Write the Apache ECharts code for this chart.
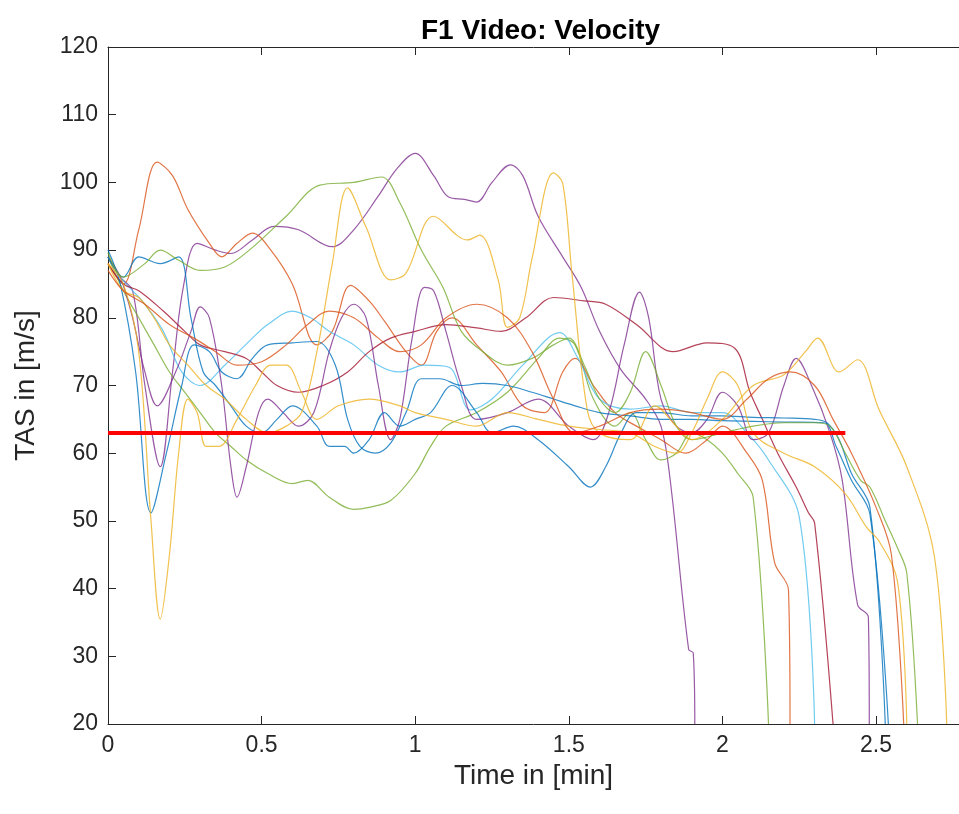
<!DOCTYPE html>
<html>
<head>
<meta charset="utf-8">
<script src="https://cdn.jsdelivr.net/npm/echarts@6/dist/echarts.min.js"></script>
<style>
  html, body { margin: 0; padding: 0; background: #fff; }
  #chart { width: 959px; height: 814px; }
</style>
</head>
<body>
<div id="chart"></div>
<script>
// MATLAB default line colours, in plot order
const lineColors = ['#7E2F8E', '#77AC30', '#D95319', '#4DBEEE', '#A2142F', '#7E2F8E',
                    '#0072BD', '#0072BD', '#EDB120', '#77AC30', '#EDB120', '#D95319'];

// [time in min, TAS in m/s]
const runA = [[0,89],[0.04,86],[0.08,84],[0.12,70],[0.17,58],[0.21,72],[0.245,84.5],[0.29,91],[0.35,90],[0.4,89.5],[0.47,91.5],[0.54,93.5],[0.62,93],[0.73,90.5],[0.8,93],[0.88,98],[0.94,102],[1.0,104.3],[1.06,101],[1.11,97.8],[1.16,97.5],[1.2,97.1],[1.25,100],[1.31,102.6],[1.35,101],[1.4,95],[1.48,89],[1.54,84.5],[1.6,78],[1.67,72.3],[1.75,68],[1.8,64],[1.83,56],[1.89,31],[1.905,30.5],[1.91,20]];
const runB = [[0,89],[0.05,84],[0.1,80],[0.15,76],[0.2,72],[0.25,69],[0.3,66],[0.35,63],[0.4,61],[0.45,59],[0.52,57],[0.6,55.5],[0.65,56],[0.72,53.5],[0.8,51.7],[0.85,52],[0.92,53],[1.0,57],[1.05,61],[1.1,64],[1.2,66],[1.3,69],[1.4,74],[1.47,77],[1.52,76],[1.58,68],[1.65,64],[1.7,66],[1.75,62],[1.8,59],[1.85,60],[1.9,63],[1.95,62],[2.0,60],[2.05,57],[2.1,53.5],[2.15,20]];
const runC = [[0,88],[0.05,85],[0.1,93],[0.16,103],[0.21,101],[0.26,96],[0.33,91],[0.37,89],[0.42,91],[0.47,92.5],[0.53,90],[0.6,85],[0.68,76],[0.73,78],[0.79,84.8],[0.85,82.5],[0.9,79.5],[0.97,75],[1.02,73],[1.07,78],[1.12,80],[1.2,76],[1.28,72],[1.35,67],[1.42,66],[1.48,72],[1.52,74],[1.58,70],[1.65,66],[1.72,64],[1.8,62],[1.88,60],[1.95,62],[2.0,64],[2.08,60],[2.13,56],[2.17,43.8],[2.215,39.8],[2.22,20]];
const runD = [[0,89],[0.04,86],[0.08,84],[0.12,82],[0.18,78],[0.24,72],[0.3,70],[0.38,73],[0.47,77],[0.52,79],[0.6,81],[0.66,80],[0.72,78],[0.8,76],[0.88,73],[0.95,72],[1.03,73],[1.11,72.7],[1.18,66.4],[1.25,68],[1.35,73],[1.47,77.8],[1.53,74],[1.6,68],[1.7,66.5],[1.8,67],[1.9,66],[2.0,66],[2.08,63],[2.15,59],[2.25,50.6],[2.3,20]];
const runE = [[0,88],[0.05,85],[0.1,84],[0.18,81],[0.25,78],[0.3,76],[0.38,75],[0.45,74],[0.5,72],[0.55,70],[0.62,69],[0.7,70],[0.78,72],[0.85,75],[0.92,77],[1.0,78],[1.1,79],[1.2,78.5],[1.28,78],[1.36,80],[1.45,83],[1.55,82.5],[1.62,82],[1.72,79],[1.84,75],[1.95,76.3],[2.04,75.5],[2.09,69],[2.13,65],[2.18,60],[2.24,55],[2.28,51.2],[2.3,49.7],[2.36,20]];
const runF = [[0,89],[0.04,86],[0.08,80],[0.12,72],[0.16,67],[0.22,72],[0.27,78],[0.3,81.6],[0.33,80],[0.37,70],[0.4,58],[0.42,53.5],[0.45,58],[0.49,66],[0.52,68],[0.57,66],[0.62,64],[0.67,66],[0.72,75],[0.76,80],[0.8,82],[0.84,80],[0.88,70],[0.92,62],[0.95,65],[0.99,77],[1.03,84.5],[1.06,84],[1.1,78],[1.15,70],[1.2,65],[1.3,66],[1.4,68],[1.5,64],[1.58,62],[1.63,66],[1.68,76],[1.73,83.8],[1.76,80],[1.8,68],[1.85,64],[1.9,63],[1.95,65],[2.0,69],[2.05,67],[2.1,62],[2.15,63],[2.2,70],[2.24,74],[2.29,70],[2.35,63],[2.39,56],[2.44,37.6],[2.475,35.8],[2.478,20]];
const runG = [[0,90],[0.04,85],[0.09,72],[0.14,51.2],[0.19,60],[0.24,70],[0.28,76],[0.33,75],[0.37,72],[0.42,71],[0.47,74],[0.52,76],[0.6,76.3],[0.68,76.5],[0.74,73],[0.78,65],[0.82,61],[0.87,60],[0.92,61.5],[0.97,66],[1.02,71],[1.08,71],[1.15,70],[1.22,70.3],[1.3,70],[1.38,69],[1.45,68],[1.52,67],[1.6,66],[1.7,65.5],[1.8,65],[1.9,65],[2.0,64.8],[2.1,64.7],[2.2,64.6],[2.33,64.5],[2.37,61],[2.42,56],[2.48,51],[2.54,20]];
const runH = [[0,89],[0.05,86],[0.1,89],[0.17,88],[0.23,89],[0.27,80],[0.31,72],[0.35,70],[0.4,67],[0.45,64],[0.5,63],[0.55,65],[0.6,67],[0.68,64],[0.72,61],[0.77,61],[0.8,60],[0.85,62],[0.9,66],[0.95,64],[1.0,65],[1.05,66],[1.12,70],[1.2,66],[1.25,63],[1.32,64],[1.4,62],[1.5,58],[1.57,55],[1.62,58],[1.67,63],[1.72,66],[1.8,66],[1.9,65.5],[2.0,65.5],[2.1,65.3],[2.2,65.2],[2.3,65],[2.34,64.5],[2.38,62],[2.42,57],[2.48,52],[2.53,20]];
const runI = [[0,88],[0.05,85],[0.1,75],[0.14,50],[0.17,35.5],[0.2,45],[0.23,60],[0.26,68],[0.29,66],[0.32,61],[0.36,61],[0.42,65],[0.48,70],[0.53,73],[0.58,73],[0.63,69],[0.68,65],[0.75,67],[0.85,68],[0.95,67],[1.0,66],[1.1,65],[1.2,64],[1.3,66],[1.4,65],[1.5,64],[1.6,63.5],[1.7,63],[1.78,61],[1.85,60],[1.9,63],[1.95,68],[2.0,72],[2.05,70],[2.1,63],[2.2,60],[2.3,58],[2.4,54],[2.47,49],[2.51,47],[2.57,41],[2.6,20]];
const runJ = [[0,89.6],[0.05,86],[0.12,88],[0.17,90],[0.23,88.5],[0.3,87],[0.38,87.5],[0.46,90],[0.58,95],[0.69,99.6],[0.8,100],[0.89,100.8],[0.95,97],[1.02,90],[1.09,84.5],[1.15,78],[1.22,75],[1.3,73],[1.38,74],[1.45,76],[1.5,77],[1.55,73],[1.6,68],[1.65,66],[1.7,69],[1.75,75],[1.8,70],[1.85,64],[1.9,62],[2.0,63],[2.1,64],[2.2,64.5],[2.3,64.5],[2.35,64],[2.4,60],[2.45,56],[2.48,55],[2.53,50],[2.57,46],[2.6,42.3],[2.635,20]];
const runK = [[0,88],[0.05,84],[0.1,83],[0.15,80],[0.2,76],[0.26,73],[0.32,70],[0.38,68],[0.45,65],[0.52,63],[0.58,64],[0.63,66],[0.68,75],[0.73,88],[0.78,99.2],[0.84,93.4],[0.92,85.6],[0.97,86.6],[1.06,95],[1.17,91.5],[1.21,92.2],[1.27,85.6],[1.3,78.6],[1.34,80],[1.38,88.7],[1.45,101.4],[1.48,99.9],[1.51,86.6],[1.56,66.4],[1.6,63],[1.7,62],[1.78,67],[1.85,64],[1.9,62],[2.0,65],[2.1,70],[2.2,71.6],[2.27,75],[2.31,77],[2.38,72],[2.44,73.8],[2.51,66.4],[2.6,58],[2.69,44.7],[2.73,20]];
const runL = [[0,87],[0.05,84],[0.12,82],[0.2,79],[0.28,77],[0.35,75],[0.42,73],[0.5,73.5],[0.58,76],[0.65,79],[0.72,81],[0.8,80],[0.88,77],[0.95,75],[1.02,76],[1.1,80],[1.2,82],[1.3,80],[1.38,75],[1.45,68],[1.52,63],[1.6,64],[1.7,66],[1.8,66.5],[1.9,66],[2.0,65],[2.08,68],[2.15,71],[2.22,72],[2.3,70],[2.36,65],[2.42,60],[2.5,52],[2.55,45],[2.59,20]];
const runs = [runA, runB, runC, runD, runE, runF, runG, runH, runI, runJ, runK, runL];

// target speed line
const targetLine = [[0, 63], [2.4, 63]];

const xTicks = { min: 0, max: 2.77, interval: 0.5 };
const yTicks = { min: 20, max: 120, interval: 10 };

const chart = echarts.init(document.getElementById('chart'));

const axisColor = '#262626';
const font = 'Liberation Sans, Arial, sans-serif';

const series = runs.map((run, i) => ({
    type: 'line',
    data: run,
    smooth: 0.35,
    symbol: 'none',
    lineStyle: { width: 1.2, color: lineColors[i], opacity: 0.8 },
    z: 2
}));
series.push({
    type: 'line',
    data: targetLine,
    symbol: 'none',
    lineStyle: { width: 4, color: '#FF0000' },
    z: 5
});

chart.setOption({
    animation: false,
    title: {
        text: 'F1 Video: Velocity',
        left: 416,
        top: 12,
        textStyle: { fontFamily: font, fontSize: 28, fontWeight: 'bold', color: '#000' }
    },
    grid: { left: 108, top: 47, right: 0, bottom: 90, outerBoundsMode: 'none' },
    xAxis: [
        {
            type: 'value',
            min: xTicks.min, max: xTicks.max, interval: xTicks.interval,
            name: 'Time in [min]',
            nameLocation: 'middle',
            nameGap: 36,
            nameTextStyle: { fontFamily: font, fontSize: 28, color: axisColor },
            axisLine: { lineStyle: { color: axisColor } },
            axisTick: { inside: true, length: 8, lineStyle: { color: axisColor } },
            axisLabel: { fontFamily: font, fontSize: 23, color: axisColor, margin: 10, showMaxLabel: false },
            splitLine: { show: false }
        },
        {
            type: 'value', position: 'top',
            min: xTicks.min, max: xTicks.max, interval: xTicks.interval,
            axisLine: { show: true, lineStyle: { color: axisColor } },
            axisTick: { inside: true, length: 8, lineStyle: { color: axisColor } },
            axisLabel: { show: false },
            splitLine: { show: false }
        }
    ],
    yAxis: {
        type: 'value',
        min: yTicks.min, max: yTicks.max, interval: yTicks.interval,
        name: 'TAS in [m/s]',
        nameLocation: 'middle',
        nameGap: 68,
        nameTextStyle: { fontFamily: font, fontSize: 28, color: axisColor },
        axisLine: { show: true, lineStyle: { color: axisColor } },
        axisTick: { show: true, inside: true, length: 8, lineStyle: { color: axisColor } },
        axisLabel: { fontFamily: font, fontSize: 23, color: axisColor, margin: 10 },
        splitLine: { show: false }
    },
    series: series
});
</script>
</body>
</html>
